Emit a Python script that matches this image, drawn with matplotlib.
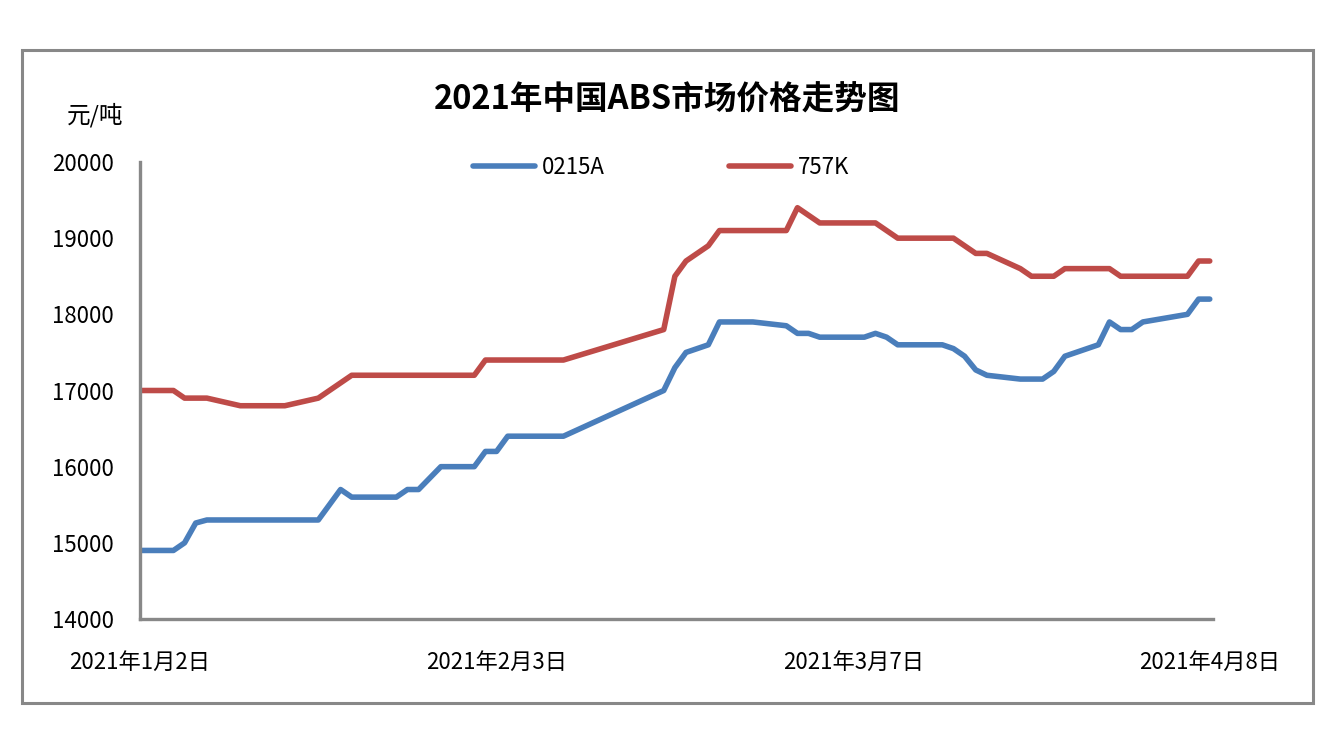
import matplotlib
matplotlib.use("Agg")
import matplotlib.pyplot as plt
import numpy as np
from matplotlib.patches import Rectangle
from matplotlib.lines import Line2D

plt.rcParams['font.family'] = ['Noto Sans CJK SC', 'DejaVu Sans']

# ---- data ----
start_date = np.datetime64('2021-01-02')
tick_labels = ['2021年1月2日', '2021年2月3日', '2021年3月7日', '2021年4月8日']
tick_dates = ['2021-01-02', '2021-02-03', '2021-03-07', '2021-04-08']

s1_name = '0215A'
s1_day = [0, 3, 4, 5, 6, 16, 18, 19, 23, 24, 25, 27, 30, 31, 32, 33, 38, 47, 48, 49,
          51, 52, 55, 58, 59, 60, 61, 65, 66, 67, 68, 72, 73, 74, 75, 76, 79, 81, 82,
          83, 86, 87, 88, 89, 90, 94, 95, 96]
s1_val = [14900, 14900, 15000, 15260, 15300, 15300, 15700, 15600, 15600, 15700, 15700,
          16000, 16000, 16200, 16200, 16400, 16400, 17000, 17300, 17500, 17600, 17900,
          17900, 17850, 17750, 17750, 17700, 17700, 17750, 17700, 17600, 17600, 17550,
          17450, 17270, 17200, 17150, 17150, 17250, 17450, 17600, 17900, 17800, 17800,
          17900, 18000, 18200, 18200]

s2_name = '757K'
s2_day = [0, 3, 4, 6, 9, 13, 16, 19, 30, 31, 38, 47, 48, 49, 51, 52, 58, 59, 61, 66,
          68, 73, 75, 76, 79, 80, 82, 83, 87, 88, 94, 95, 96]
s2_val = [17000, 17000, 16900, 16900, 16800, 16800, 16900, 17200, 17200, 17400, 17400,
          17800, 18500, 18700, 18900, 19100, 19100, 19400, 19200, 19200, 19000, 19000,
          18800, 18800, 18600, 18500, 18500, 18600, 18600, 18500, 18500, 18700, 18700]

y_ticks = [14000, 15000, 16000, 17000, 18000, 19000, 20000]

# ---- figure ----
W, H = 1337, 752
fig = plt.figure(figsize=(W / 100, H / 100), dpi=100)
fig.patch.set_facecolor('white')

# outer border
fig.patches.append(Rectangle((22 / W, 1 - 703 / H), (1313 - 22) / W, (703 - 50) / H,
                             transform=fig.transFigure, fill=False,
                             edgecolor='#888888', linewidth=2.2))

ax = fig.add_axes([140 / W, 1 - 619 / H, (1213 - 140) / W, (619 - 162) / H])

d1 = start_date + np.array(s1_day).astype('timedelta64[D]')
d2 = start_date + np.array(s2_day).astype('timedelta64[D]')
blue = '#4A7EBB'
red = '#BE4B48'
lw = 4.0
ax.plot(d1, s1_val, color=blue, linewidth=lw, solid_joinstyle='round',
        solid_capstyle='round', label=s1_name)
ax.plot(d2, s2_val, color=red, linewidth=lw, solid_joinstyle='round',
        solid_capstyle='round', label=s2_name)

ax.set_ylim(14000, 20000)
ax.set_xlim(start_date, np.datetime64('2021-04-08T07:00'))
ax.set_yticks(y_ticks)
ax.set_yticklabels([str(v) for v in y_ticks])
ax.set_xticks([np.datetime64(d) for d in tick_dates])
ax.set_xticklabels(tick_labels)
ax.tick_params(axis='both', length=0, labelsize=16)
ax.tick_params(axis='y', pad=19)
ax.tick_params(axis='x', pad=23)

for s in ['top', 'right']:
    ax.spines[s].set_visible(False)
for s in ['left', 'bottom']:
    ax.spines[s].set_color('#888888')
    ax.spines[s].set_linewidth(2.4)

# title and unit
fig.text(667 / W, 1 - 100 / H, '2021年中国ABS市场价格走势图', ha='center', va='center',
         fontsize=23.5, fontweight='bold')
fig.text(95 / W, 1 - 115 / H, '元/吨', ha='center', va='center', fontsize=17)

# legend
leg_handles = [Line2D([0], [0], color=blue, linewidth=lw, solid_capstyle='round'),
               Line2D([0], [0], color=red, linewidth=lw, solid_capstyle='round')]
leg = fig.legend(leg_handles, [s1_name, s2_name], loc='center',
                 bbox_to_anchor=(661 / W, 1 - 167 / H), ncol=2, frameon=False,
                 fontsize=16, handlelength=2.8, columnspacing=5.6, handletextpad=0.3)

fig.savefig('out.png', dpi=100)
